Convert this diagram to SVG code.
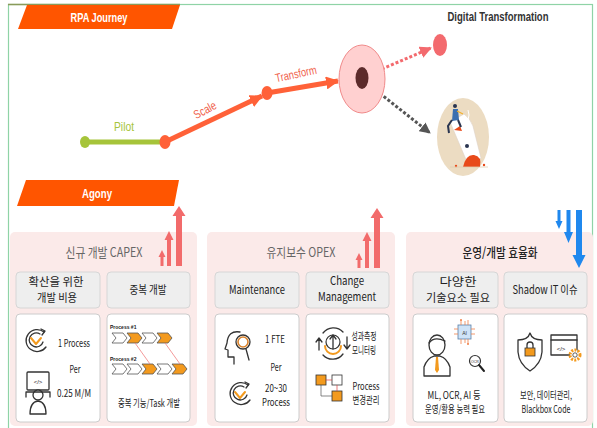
<svg xmlns="http://www.w3.org/2000/svg" width="597" height="428" viewBox="0 0 597 428">
  <style>
    .banner { fill: #ff5500; }
    .bannerText { font-family: "Liberation Sans", "Noto Sans", sans-serif; font-weight: bold; font-size: 12.5px; fill: #ffffff; text-anchor: middle; }
    .panel { fill: #fbeae9; }
    .sub { fill: #eeeeee; stroke: #d6d6d6; stroke-width: 1; }
    .card { fill: #ffffff; stroke: #cccccc; stroke-width: 1; }
    .title { font-family: "Noto Sans CJK KR", "Noto Sans", sans-serif; font-size: 13px; fill: #666666; text-anchor: middle; }
    .title3 { font-family: "Noto Sans CJK KR", "Noto Sans", sans-serif; font-size: 13px; fill: #222222; text-anchor: middle; font-weight: 500; }
    .lbl { font-family: "Noto Sans CJK KR", "Noto Sans", sans-serif; font-size: 11.5px; fill: #222222; text-anchor: middle; }
    .sm { font-family: "Noto Sans CJK KR", "Noto Sans", sans-serif; font-size: 10.5px; fill: #222222; text-anchor: middle; }
    .tiny { font-family: "Liberation Sans", sans-serif; font-size: 5px; font-weight: bold; fill: #222222; }
    .ico { fill: none; stroke: #333333; stroke-width: 1.3; stroke-linecap: round; stroke-linejoin: round; }
    .icoO { fill: none; stroke: #f39a1e; stroke-width: 2; stroke-linecap: round; stroke-linejoin: round; }
    .up { fill: #f26b6b; }
    .down { fill: #1f88ee; }
    .chevW { fill: #ffffff; stroke: #555555; stroke-width: 0.8; }
    .chevO { fill: #f39a1e; stroke: #555555; stroke-width: 0.8; }
  </style>
  <defs>
    <marker id="headOrange" viewBox="0 0 12 12" refX="11" refY="6" markerWidth="13" markerHeight="13" markerUnits="userSpaceOnUse" orient="auto">
      <path d="M0,0 L12,6 L0,12 z" fill="#ff6138"/>
    </marker>
    <marker id="headRed" viewBox="0 0 12 12" refX="11" refY="6" markerWidth="12" markerHeight="12" markerUnits="userSpaceOnUse" orient="auto">
      <path d="M0,0 L12,6 L0,12 z" fill="#f36a6e"/>
    </marker>
    <marker id="headGrey" viewBox="0 0 12 12" refX="11" refY="6" markerWidth="11" markerHeight="11" markerUnits="userSpaceOnUse" orient="auto">
      <path d="M0,0 L12,6 L0,12 z" fill="#555555"/>
    </marker>
    <path id="chev" d="M0,0 L11,0 L15,5 L11,10 L0,10 L4,5 Z"/>
  </defs>

  <!-- frame -->
  <rect x="8.5" y="4.5" width="584" height="430" fill="#ffffff" stroke="#8fd3a6" stroke-width="1.2"/>
  <line x1="8" y1="4.5" x2="180" y2="4.5" stroke="#8a9a5a" stroke-width="1.4"/>

  <!-- banners -->
  <g id="banner-journey">
    <polygon class="banner" points="27,5 180,5 172,29 18,29"/>
    <text class="bannerText" x="99" y="21.5" textLength="57" lengthAdjust="spacingAndGlyphs">RPA Journey</text>
  </g>
  <g id="banner-agony">
    <polygon class="banner" points="26,180 179,180 174,206 17,206"/>
    <text class="bannerText" x="97" y="197.5" textLength="30" lengthAdjust="spacingAndGlyphs">Agony</text>
  </g>

  <text x="498" y="21" font-family="Liberation Sans, sans-serif" font-weight="bold" font-size="12.5" fill="#333333" text-anchor="middle" textLength="101" lengthAdjust="spacingAndGlyphs">Digital Transformation</text>

  <!-- journey connectors -->
  <g id="connectors">
    <line x1="85" y1="142" x2="165" y2="142" stroke="#a6c43a" stroke-width="5"/>
    <line x1="165" y1="142" x2="262" y2="96" stroke="#ff6138" stroke-width="5" marker-end="url(#headOrange)"/>
    <line x1="267" y1="93" x2="338" y2="81" stroke="#ff6138" stroke-width="5" marker-end="url(#headOrange)"/>
    <line x1="368" y1="75" x2="431" y2="48" stroke="#f36a6e" stroke-width="3" stroke-dasharray="3 2" marker-end="url(#headRed)"/>
    <line x1="368" y1="84" x2="430" y2="133" stroke="#555555" stroke-width="3" stroke-dasharray="3 2" marker-end="url(#headGrey)"/>
  </g>

  <g id="pilot">
    <ellipse cx="85" cy="142" rx="5" ry="6" fill="#a6c43a"/>
    <text x="124" y="131" font-family="Liberation Sans, sans-serif" font-size="12" fill="#a6c43a" text-anchor="middle" textLength="20" lengthAdjust="spacingAndGlyphs">Pilot</text>
  </g>
  <g id="scale">
    <ellipse cx="165" cy="142" rx="5.5" ry="7" fill="#ff6138"/>
    <text x="205" y="114" font-family="Liberation Sans, sans-serif" font-size="12" fill="#f0604a" text-anchor="middle" transform="rotate(-28 205 110)" textLength="24" lengthAdjust="spacingAndGlyphs">Scale</text>
  </g>
  <g id="transform">
    <ellipse cx="267" cy="93" rx="5.5" ry="7" fill="#ff6138"/>
    <text x="296" y="78" font-family="Liberation Sans, sans-serif" font-size="12" fill="#f0604a" text-anchor="middle" transform="rotate(-12 296 74)" textLength="42" lengthAdjust="spacingAndGlyphs">Transform</text>
  </g>
  <g id="pivot">
    <ellipse cx="362" cy="79" rx="23" ry="34" fill="#ffd0d0" stroke="#f08a8a" stroke-width="1"/>
    <ellipse cx="362" cy="78" rx="6.5" ry="11" fill="#5c2b2b"/>
  </g>
  <g id="digital">
    <ellipse cx="440" cy="45" rx="7" ry="11" fill="#f36a6e"/>
  </g>
  <g id="failure">
    <ellipse cx="463" cy="137" rx="26" ry="39" fill="#ecdcc2"/>
    <!-- crashing rocket -->
    <path d="M450,122 L464,114 Q470,118 473,126 L481,158 Q474,166 467,162 Z" fill="#ffffff" stroke="#ddd0c4" stroke-width="0.6"/>
    <path d="M454,130 L460,126 L462,131 Z" fill="#e84a1a"/>
    <circle cx="467" cy="146" r="2" fill="#2a3550"/>
    <path d="M463,167 Q466,154 474,155 Q482,156 480,167 Z" fill="#e84a1a"/>
    <circle cx="456" cy="166" r="1.2" fill="#e84a1a"/>
    <circle cx="484" cy="165" r="1.2" fill="#e84a1a"/>
    <line x1="450" y1="167" x2="488" y2="167" stroke="#e0cdb0" stroke-width="0.8"/>
    <!-- rider -->
    <circle cx="455" cy="106" r="2" fill="#2a3550"/>
    <path d="M453,109 L458,109 L459,120 L452,121 Z" fill="#3a6fb0"/>
    <path d="M452,120 L448,126 L449,133" fill="none" stroke="#2a3550" stroke-width="2"/>
    <path d="M458,120 L461,127" fill="none" stroke="#2a3550" stroke-width="2"/>
    <path d="M457,111 L463,114" stroke="#f3b02a" stroke-width="1.2"/>
    <path d="M468,110 Q470,115 468,120" fill="none" stroke="#ffffff" stroke-width="1"/>
  </g>

  <!-- ===== Panel: CAPEX ===== -->
  <g id="panel-capex">
    <rect class="panel" x="10" y="232" width="187" height="194" rx="5"/>
    <text class="title" x="104" y="257" textLength="77" lengthAdjust="spacingAndGlyphs">신규 개발 CAPEX</text>
    <polygon class="up" points="160.5,266 160.5,257 158.5,257 162,250 165.5,257 163.5,257 163.5,266"/>
    <polygon class="up" points="167,266 167,240 164.5,240 169,231 173.5,240 171,240 171,266"/>
    <polygon class="up" points="176,266 176,216 172.5,216 179,206 185.5,216 182,216 182,266"/>
  </g>
  <g id="capex-cost">
    <rect class="sub" x="16" y="272" width="84" height="36" rx="4"/>
    <text class="lbl" x="56" y="286" textLength="55" lengthAdjust="spacingAndGlyphs">확산을 위한</text>
    <text class="lbl" x="57" y="302" textLength="40" lengthAdjust="spacingAndGlyphs">개발 비용</text>
    <rect class="card" x="16" y="314" width="84" height="108" rx="4"/>
    <!-- cycle with check -->
    <path class="ico" d="M44,332 A11,11 0 1 0 46,347"/>
    <path class="ico" d="M41,329 L45,331 L42,335"/>
    <path class="ico" d="M40,334 A7,7 0 1 0 43,342" stroke-width="1"/>
    <path class="icoO" d="M31,338 L36,344 L41,338"/>
    <!-- developer at screen -->
    <rect class="ico" x="27" y="372" width="22" height="18" rx="1"/>
    <text x="38" y="384" font-family="Liberation Sans, sans-serif" font-size="6" fill="#222" text-anchor="middle">&lt;/&gt;</text>
    <circle cx="38" cy="395" r="5" fill="#ffffff" stroke="#333" stroke-width="1.3"/>
    <path class="ico" d="M26,392 L50,392 M26,392 L26,397 M50,392 L50,397"/>
    <path class="ico" d="M30,414 Q30,402 38,401 Q46,402 46,414 Z"/>
    <text class="sm" x="74" y="347" textLength="32" lengthAdjust="spacingAndGlyphs">1 Process</text>
    <text class="sm" x="75" y="373" textLength="11" lengthAdjust="spacingAndGlyphs">Per</text>
    <text class="sm" x="74" y="397" textLength="34" lengthAdjust="spacingAndGlyphs">0.25 M/M</text>
  </g>
  <g id="capex-dup">
    <rect class="sub" x="107" y="272" width="83" height="36" rx="4"/>
    <text class="lbl" x="148" y="294" textLength="37" lengthAdjust="spacingAndGlyphs">중복 개발</text>
    <rect class="card" x="107" y="314" width="83" height="108" rx="4"/>
    <text class="tiny" x="110" y="329">Process #1</text>
    <use href="#chev" class="chevW" x="112" y="333"/>
    <use href="#chev" class="chevO" x="127" y="333"/>
    <use href="#chev" class="chevW" x="142" y="333"/>
    <use href="#chev" class="chevO" x="157" y="333"/>
    <text class="tiny" x="110" y="361">Process #2</text>
    <use href="#chev" class="chevW" x="112" y="364"/>
    <use href="#chev" class="chevW" x="127" y="364"/>
    <use href="#chev" class="chevO" x="142" y="364"/>
    <use href="#chev" class="chevW" x="157" y="364"/>
    <use href="#chev" class="chevO" x="172" y="364"/>
    <line x1="135" y1="343" x2="150" y2="364" stroke="#f08080" stroke-width="0.8"/>
    <line x1="165" y1="343" x2="180" y2="364" stroke="#f08080" stroke-width="0.8"/>
    <text class="sm" x="149" y="407" textLength="62" lengthAdjust="spacingAndGlyphs">중복 기능/Task 개발</text>
  </g>

  <!-- ===== Panel: OPEX ===== -->
  <g id="panel-opex">
    <rect class="panel" x="207" y="232" width="188" height="194" rx="5"/>
    <text class="title" x="301" y="257" textLength="69" lengthAdjust="spacingAndGlyphs">유지보수 OPEX</text>
    <polygon class="up" points="357.5,268 357.5,260 355.5,260 359,253 362.5,260 360.5,260 360.5,268"/>
    <polygon class="up" points="365,268 365,241 362.5,241 367,232 371.5,241 369,241 369,268"/>
    <polygon class="up" points="374,268 374,218 370.5,218 377,208 383.5,218 380,218 380,268"/>
  </g>
  <g id="opex-maint">
    <rect class="sub" x="215" y="272" width="84" height="36" rx="4"/>
    <text class="lbl" x="257" y="294" textLength="56" lengthAdjust="spacingAndGlyphs">Maintenance</text>
    <rect class="card" x="215" y="314" width="84" height="108" rx="4"/>
    <!-- head with magnifier -->
    <path class="ico" d="M240,332 Q228,330 227,343 L225,349 L228,350 L228,357 L234,357 L234,364"/>
    <circle cx="243" cy="342" r="7" fill="none" stroke="#333" stroke-width="1.3"/>
    <circle cx="243" cy="342" r="5" fill="none" stroke="#d9822b" stroke-width="1.6"/>
    <path class="ico" d="M246,349 L249,360"/>
    <!-- cycle with check -->
    <path class="ico" d="M248,385 A11,11 0 1 0 250,400"/>
    <path class="ico" d="M245,382 L249,384 L246,388"/>
    <path class="ico" d="M244,387 A7,7 0 1 0 247,395" stroke-width="1"/>
    <path class="icoO" d="M235,392 L240,398 L245,392"/>
    <text class="sm" x="275" y="343" textLength="20" lengthAdjust="spacingAndGlyphs">1 FTE</text>
    <text class="sm" x="276" y="371" textLength="11" lengthAdjust="spacingAndGlyphs">Per</text>
    <text class="sm" x="276" y="392" textLength="22" lengthAdjust="spacingAndGlyphs">20~30</text>
    <text class="sm" x="276" y="406" textLength="28" lengthAdjust="spacingAndGlyphs">Process</text>
  </g>
  <g id="opex-change">
    <rect class="sub" x="306" y="272" width="83" height="36" rx="4"/>
    <text class="lbl" x="347" y="285" textLength="34" lengthAdjust="spacingAndGlyphs">Change</text>
    <text class="lbl" x="347" y="301" textLength="58" lengthAdjust="spacingAndGlyphs">Management</text>
    <rect class="card" x="306" y="314" width="83" height="108" rx="4"/>
    <!-- gear with cycle arrows -->
    <path class="ico" d="M323,333 A13,13 0 0 1 343,332"/>
    <path class="ico" d="M343,354 A13,13 0 0 1 323,355"/>
    <path class="ico" d="M319,350 L319,339 M316,342 L319,338 L322,342"/>
    <path class="ico" d="M347,337 L347,348 M344,345 L347,349 L350,345"/>
    <circle cx="333" cy="342" r="7" fill="none" stroke="#333" stroke-width="1.2"/>
    <path class="icoO" d="M325,346 A8,8 0 0 0 341,346"/>
    <path class="ico" d="M333,336 L333,349 M330,339 L333,335 L336,339"/>
    <text class="sm" x="364" y="340" textLength="25" lengthAdjust="spacingAndGlyphs">성과측정</text>
    <text class="sm" x="364" y="354" textLength="24" lengthAdjust="spacingAndGlyphs">모니터링</text>
    <!-- flow boxes -->
    <rect x="316" y="375" width="10" height="10" fill="#f39a1e" stroke="#333" stroke-width="0.8"/>
    <rect x="332" y="375" width="10" height="10" fill="#ffffff" stroke="#333" stroke-width="0.8"/>
    <rect x="332" y="391" width="10" height="10" fill="#f39a1e" stroke="#333" stroke-width="0.8"/>
    <line x1="326" y1="380" x2="332" y2="380" stroke="#e04040" stroke-width="0.7"/>
    <line x1="337" y1="385" x2="337" y2="391" stroke="#e04040" stroke-width="0.7"/>
    <path d="M321,385 L321,396 L332,396" fill="none" stroke="#555" stroke-width="0.7"/>
    <text class="sm" x="366" y="390" textLength="27" lengthAdjust="spacingAndGlyphs">Process</text>
    <text class="sm" x="366" y="404" textLength="27" lengthAdjust="spacingAndGlyphs">변경관리</text>
  </g>

  <!-- ===== Panel: efficiency ===== -->
  <g id="panel-efficiency">
    <rect class="panel" x="406" y="232" width="187" height="194" rx="5"/>
    <text class="title3" x="500" y="257" textLength="75" lengthAdjust="spacingAndGlyphs">운영/개발 효율화</text>
    <polygon class="down" points="557.5,210 557.5,221 555.5,221 559,229 562.5,221 560.5,221 560.5,210"/>
    <polygon class="down" points="566.5,210 566.5,232 564,232 568.5,243 573,232 570.5,232 570.5,210"/>
    <polygon class="down" points="576,210 576,255 572.5,255 579,268 585.5,255 582,255 582,210"/>
  </g>
  <g id="eff-tech">
    <rect class="sub" x="413" y="272" width="85" height="36" rx="4"/>
    <text class="lbl" x="458" y="286" textLength="37" lengthAdjust="spacingAndGlyphs">다양한</text>
    <text class="lbl" x="458" y="302" textLength="64" lengthAdjust="spacingAndGlyphs">기술요소 필요</text>
    <rect class="card" x="413" y="314" width="85" height="108" rx="4"/>
    <!-- person -->
    <ellipse cx="437" cy="345" rx="8" ry="10" fill="none" stroke="#333" stroke-width="1.3"/>
    <path class="ico" d="M429,343 Q434,336 445,341"/>
    <path class="ico" d="M424,376 L424,367 Q427,358 434,356 L440,356 Q447,358 450,367 L450,376 Z"/>
    <path d="M436,357 L438,357 L439,370 L437,373 L435,370 Z" fill="#f39a1e"/>
    <!-- AI chip -->
    <rect x="458" y="325" width="13" height="14" fill="#cfe3f7" stroke="#5a7fa8" stroke-width="0.8"/>
    <text x="464.5" y="335" font-family="Liberation Sans, sans-serif" font-size="5" fill="#333" text-anchor="middle">AI</text>
    <path d="M461,325 L461,320 M465,325 L465,321 M468,325 L468,320 M461,339 L461,344 M465,339 L465,343 M468,339 L468,344 M458,329 L454,329 M458,334 L454,334 M471,329 L475,329 M471,334 L475,334" stroke="#f0824a" stroke-width="0.8"/>
    <circle cx="461" cy="320" r="1" fill="#f0824a"/>
    <circle cx="468" cy="344" r="1" fill="#f0824a"/>
    <!-- OCR magnifier -->
    <circle cx="475" cy="361" r="5.5" fill="#ffffff" stroke="#333" stroke-width="1.2"/>
    <text x="475" y="362.5" font-family="Liberation Sans, sans-serif" font-size="3.5" fill="#333" text-anchor="middle">OCR</text>
    <path d="M479,365 L484,371" stroke="#222" stroke-width="2" stroke-linecap="round"/>
    <text class="sm" x="454" y="399" textLength="53" lengthAdjust="spacingAndGlyphs">ML, OCR, AI 등</text>
    <text class="sm" x="455" y="413" textLength="60" lengthAdjust="spacingAndGlyphs">운영/활용 능력 필요</text>
  </g>
  <g id="eff-shadow">
    <rect class="sub" x="504" y="272" width="83" height="36" rx="4"/>
    <text class="lbl" x="545" y="294" textLength="65" lengthAdjust="spacingAndGlyphs">Shadow IT 이슈</text>
    <rect class="card" x="504" y="314" width="83" height="108" rx="4"/>
    <!-- shield with lock -->
    <path class="ico" d="M518,340 Q528,340 530,333 Q532,340 542,340 L542,352 Q541,364 530,371 Q519,364 518,352 Z"/>
    <path class="ico" d="M527,348 L527,345 A3,3 0 0 1 533,345 L533,348"/>
    <rect x="525" y="348" width="10" height="8" fill="#f39a1e" stroke="#333" stroke-width="0.8"/>
    <!-- code window with gear -->
    <rect class="ico" x="551" y="335" width="26" height="20"/>
    <line class="ico" x1="551" y1="340" x2="577" y2="340"/>
    <text x="561" y="351" font-family="Liberation Sans, sans-serif" font-size="6" fill="#222" text-anchor="middle">&lt;/&gt;</text>
    <circle cx="575" cy="355" r="5" fill="#ffffff" stroke="#f39a1e" stroke-width="3" stroke-dasharray="2 1.2"/>
    <circle cx="575" cy="355" r="2.2" fill="#ffffff" stroke="#333" stroke-width="0.8"/>
    <text class="sm" x="546" y="399" textLength="52" lengthAdjust="spacingAndGlyphs">보안, 데이터관리,</text>
    <text class="sm" x="546" y="413" textLength="49" lengthAdjust="spacingAndGlyphs">Blackbox Code</text>
  </g>
</svg>
